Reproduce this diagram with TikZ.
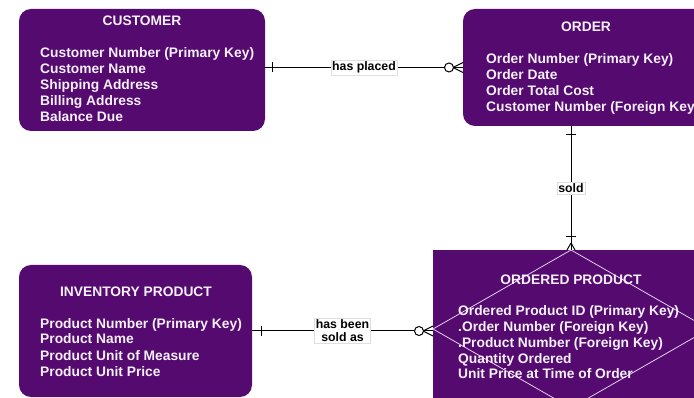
\documentclass[tikz,border=0pt]{standalone}
\usepackage{fontspec}
\setmainfont{Liberation Sans}
\usetikzlibrary{calc}
\definecolor{erpurple}{RGB}{84,10,110}
\definecolor{ertext}{RGB}{246,240,250}
\definecolor{erline}{RGB}{225,210,235}
\begin{document}
\begin{tikzpicture}[x=1pt,y=-1pt,
  entity/.style={fill=erpurple,draw=none,rounded corners=12pt,inner sep=0pt,outer sep=0pt},
  assoc/.style={fill=erpurple,draw=none,inner sep=0pt,outer sep=0pt},
  etitle/.style={text=ertext,font=\bfseries\fontsize{13.8}{16}\selectfont,inner sep=0pt,anchor=base},
  attr/.style={text=ertext,font=\bfseries\fontsize{13.8}{16}\selectfont,inner sep=0pt,anchor=base west},
  rel/.style={draw=black,line width=1pt},
  lbl/.style={fill=white,draw=gray!25,line width=0.4pt,text=black,font=\bfseries\fontsize{12.3}{13}\selectfont,inner sep=1.5pt,align=center},
  tickmark/.style={draw=black,line width=1pt},
  ring/.style={draw=black,fill=white,line width=1pt}]
\useasboundingbox (0,0) rectangle (694,398);
\clip (0,0) rectangle (694,398);
\fill[white] (0,0) rectangle (694,398);

% entity boxes
\node[entity,minimum width=246pt,minimum height=122pt] (cust) at (142,70) {};
\node[entity,minimum width=262pt,minimum height=117pt] (ord) at (594,67.5) {};
\node[entity,minimum width=233pt,minimum height=132pt] (inv) at (135.5,331) {};
\node[assoc,minimum width=276pt,minimum height=158pt] (opr) at (571,329) {};

% diamond of the associative entity
\draw[erline,line width=0.8pt] (opr.north) -- (opr.east) -- (opr.south) -- (opr.west) -- cycle;

% titles
\node[etitle] (custT) at (142,26) {CUSTOMER};
\node[etitle] (ordT) at (586,32) {ORDER};
\node[etitle] (invT) at (136,297) {INVENTORY PRODUCT};
\node[etitle] (oprT) at (571,285) {ORDERED PRODUCT};

% attributes
\foreach \t [count=\i] in {{Customer Number (Primary Key)},{Customer Name},{Shipping Address},{Billing Address},{Balance Due}}
  \node[attr] (cust-\i) at (40,{58+16*(\i-1)}) {\t};
\foreach \t [count=\i] in {{Order Number (Primary Key)},{Order Date},{Order Total Cost},{Customer Number (Foreign Key)}}
  \node[attr] (ord-\i) at (486,{64+15.7*(\i-1)}) {\t};
\foreach \t [count=\i] in {{Product Number (Primary Key)},{Product Name},{Product Unit of Measure},{Product Unit Price}}
  \node[attr] (inv-\i) at (40,{328+16*(\i-1)}) {\t};
\foreach \t [count=\i] in {{Ordered Product ID (Primary Key)},{.Order Number (Foreign Key)},{.Product Number (Foreign Key)},{Quantity Ordered},{Unit Price at Time of Order}}
  \node[attr] (opr-\i) at (458,{316+15.7*(\i-1)}) {\t};

% CUSTOMER -- ORDER
\draw[rel] (cust.east |- ord.west) -- node[lbl] (hp) {has placed} (ord.west);
\draw[tickmark] ($(cust.east |- ord.west)+(7,-5)$) -- ++(0,10);
\draw[tickmark] ($(ord.west)+(-10,0)$) -- ($(ord.west)+(0,-5)$)
            ($(ord.west)+(-10,0)$) -- ($(ord.west)+(0,5)$);
\node[ring,circle,minimum size=9pt,inner sep=0pt] (hpR) at ($(ord.west)+(-14,0)$) {};

% ORDER -- ORDERED PRODUCT
\draw[rel] (opr.north |- ord.south) -- node[lbl] (sd) {sold} (opr.north);
\draw[tickmark] ($(opr.north |- ord.south)+(-5,9)$) -- ++(10,0);
\draw[tickmark] ($(opr.north)+(-5,-13)$) -- ++(10,0);
\draw[tickmark] ($(opr.north)+(0,-7)$) -- ($(opr.north)+(-4,0)$)
            ($(opr.north)+(0,-7)$) -- ($(opr.north)+(4,0)$);

% INVENTORY PRODUCT -- ORDERED PRODUCT
\draw[rel] (inv.east) -- node[lbl] (hb) {has been\\sold as} (inv.east -| opr.west);
\draw[tickmark] ($(inv.east)+(9,-5)$) -- ++(0,10);
\draw[tickmark] ($(inv.east -| opr.west)+(-10,0)$) -- ($(inv.east -| opr.west)+(0,-5)$)
            ($(inv.east -| opr.west)+(-10,0)$) -- ($(inv.east -| opr.west)+(0,5)$);
\node[ring,circle,minimum size=9pt,inner sep=0pt] (hbR) at ($(inv.east -| opr.west)+(-14,0)$) {};
\end{tikzpicture}
\end{document}
